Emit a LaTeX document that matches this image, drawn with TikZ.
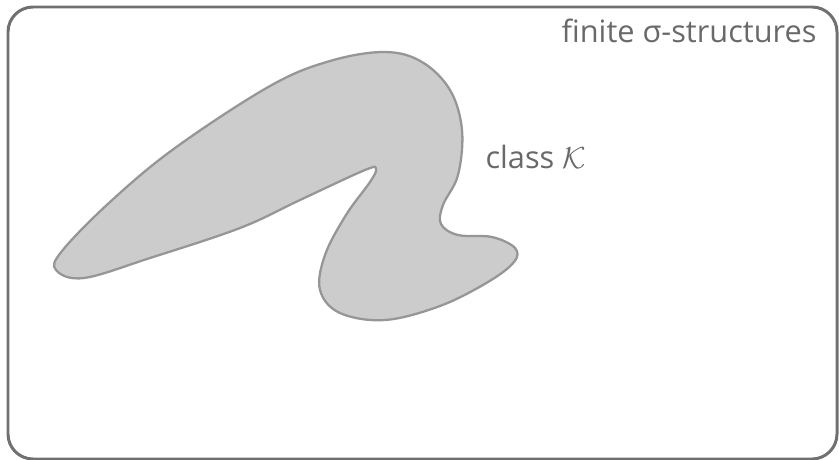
\documentclass[tikz,border=0pt]{standalone}
\usepackage{fontspec}
\setmainfont{Open Sans}
\definecolor{framegray}{RGB}{112,112,112}
\definecolor{blobline}{RGB}{150,150,150}
\definecolor{blobfill}{RGB}{204,204,204}
\definecolor{textgray}{RGB}{105,105,105}
\tikzset{
  every path/.style={semithick},
  settext/.style={text=textgray, font=\fontsize{17.5}{21}\selectfont, inner sep=0pt}
}

\begin{document}
\begin{tikzpicture}[x=0.02cm, y=-0.02cm]
    \useasboundingbox (0,0) rectangle (839,460);

    \draw[framegray, line width=1.7pt, rounded corners=0.5cm] (8,7) rectangle (837,459);

    \draw[blobline, fill=blobfill, line width=1.3pt] plot[smooth cycle, tension=0.6] coordinates {
      (62,251) (110,202) (175,148) (270,86) (330,61) (385,52) (422,62) (450,90)
      (462,130) (458,175) (443,205) (441,224) (458,235) (492,237) (515,248)
      (514,262) (488,282) (440,306) (385,320) (340,313) (320,290) (325,255)
      (346,215) (370,182) (376,169) (365,170) (300,200) (240,228) (150,258)
      (84,278) (56,270)};

    \node[settext, anchor=base east] (universe) at (817,42) {finite σ-structures};
    \node[settext, anchor=base west] (classK) at (485,168) {class $\mathcal{K}$};
\end{tikzpicture}
\end{document}
